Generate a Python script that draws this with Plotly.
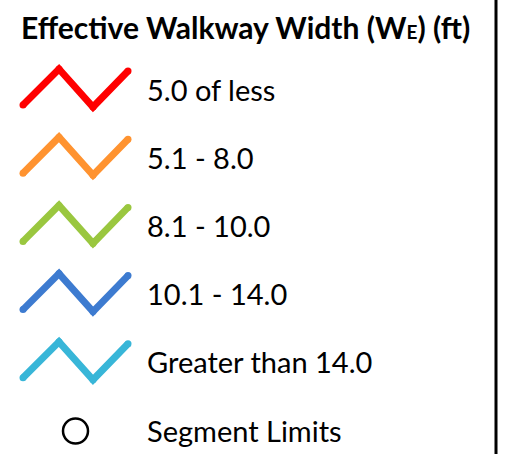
import plotly.graph_objects as go

# Legend content
title_text = "Effective Walkway Width (W<span style='font-size:19px'>E</span>) (ft)"
categories = ["5.0 of less", "5.1 - 8.0", "8.1 - 10.0", "10.1 - 14.0", "Greater than 14.0"]
colors = ["#FF0000", "#FF9330", "#9AC73F", "#3D7BD0", "#38B6D8"]
marker_label = "Segment Limits"

# Zigzag glyph (style, in pixel units)
zig_x = [23, 59, 93, 128]
zig_dy = [17, -19, 19, -17]

W, H = 507, 454
row0, row_step = 88, 68.2
FONT = "Lato"
FS = 29

fig = go.Figure()
for i, (cat, col) in enumerate(zip(categories, colors)):
    yc = row0 + i * row_step
    fig.add_trace(go.Scatter(
        x=zig_x, y=[yc + d for d in zig_dy], mode="lines+markers",
        line=dict(color=col, width=7),
        marker=dict(color=col, size=7, line=dict(width=0)),
        hoverinfo="skip", showlegend=False))
    fig.add_annotation(x=145, y=yc + 1, text=cat, showarrow=False,
                       xanchor="left", yanchor="middle",
                       font=dict(family=FONT, size=FS, color="#000000"))

yc = row0 + len(categories) * row_step
fig.add_trace(go.Scatter(
    x=[75.5], y=[yc + 2], mode="markers",
    marker=dict(symbol="circle-open", size=25, color="#000000", line=dict(width=2.5, color="#000000")),
    hoverinfo="skip", showlegend=False))
fig.add_annotation(x=145, y=yc + 1, text=marker_label, showarrow=False,
                   xanchor="left", yanchor="middle",
                   font=dict(family=FONT, size=FS, color="#000000"))

fig.add_annotation(x=245.5, y=27, text="<b>" + title_text + "</b>", showarrow=False,
                   xanchor="center", yanchor="middle",
                   font=dict(family=FONT, size=30, color="#000000"))

# right border line
fig.add_shape(type="line", x0=496, x1=496, y0=0, y1=H, line=dict(color="#000000", width=3))

fig.update_layout(
    width=W, height=H, margin=dict(l=0, r=0, t=0, b=0),
    paper_bgcolor="white", plot_bgcolor="white",
    xaxis=dict(range=[0, W], visible=False, fixedrange=True),
    yaxis=dict(range=[H, 0], visible=False, fixedrange=True),
)
fig.write_html("out.html", config={"displayModeBar": False},
               post_script="document.body.style.margin='0';document.body.style.overflow='hidden';")
